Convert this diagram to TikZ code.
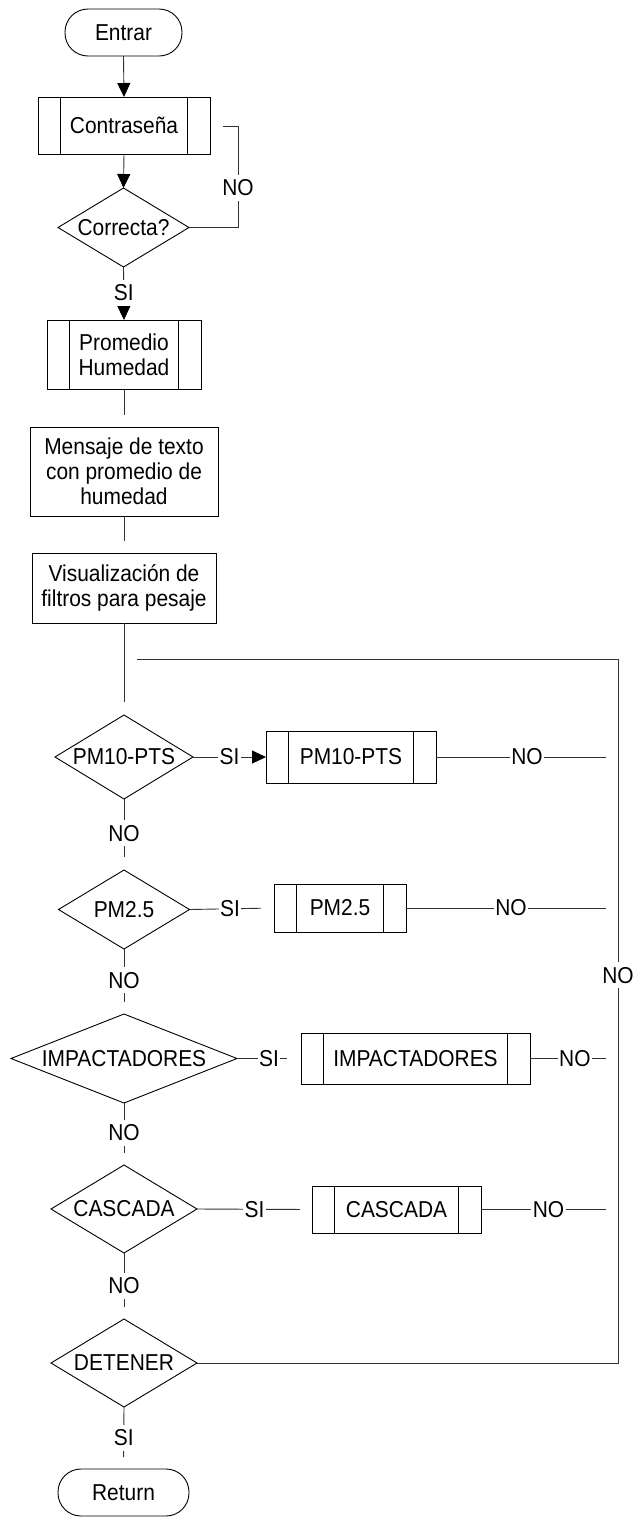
\documentclass[tikz,border=0pt]{standalone}
\usepackage{fontspec}
\setmainfont[FakeStretch=0.91]{Liberation Sans}
\usetikzlibrary{arrows.meta}
\begin{document}
\begin{tikzpicture}[x=1pt,y=-1pt,
  every node/.style={font=\fontsize{23}{25}\selectfont, align=center, inner sep=0pt, outer sep=0pt},
  terminal/.style={draw, line width=0.9pt, rounded corners=23pt},
  procbox/.style={draw, line width=0.9pt},
  subproc/.style={draw, line width=0.9pt,
    path picture={
      \draw[line width=0.9pt] ([xshift=22.5pt]path picture bounding box.north west) -- ([xshift=22.5pt]path picture bounding box.south west);
      \draw[line width=0.9pt] ([xshift=-22.5pt]path picture bounding box.north east) -- ([xshift=-22.5pt]path picture bounding box.south east);}},
  decision/.style={},
  conn/.style={line width=0.9pt, draw=black!80},
  arr/.style={conn, -{Triangle[length=14pt,width=13pt,color=black]}},
  lbl/.style={fill=white, inner xsep=1.5pt, inner ysep=5pt}
]
\useasboundingbox (0,0) rectangle (634,1519);

% nodes
\node[terminal, minimum width=117pt, minimum height=47pt] (ent) at (123.5,32.5) {Entrar};
\node[subproc, minimum width=172pt, minimum height=57pt] (con) at (124,125.5) {Contraseña};
\node[decision, minimum width=131pt, minimum height=79pt] (cor) at (123.5,227.5) {Correcta?};
\node[subproc, minimum width=154pt, minimum height=69pt] (pro) at (124,354.5) {Promedio\\Humedad};
\node[procbox, minimum width=188pt, minimum height=89pt] (men) at (124,471.5) {Mensaje de texto\\con promedio de\\humedad};
\node[procbox, minimum width=184pt, minimum height=70pt] (vis) at (124,588) {Visualización de\\filtros para pesaje};

\node[decision, minimum width=138pt, minimum height=84pt] (d1) at (124,757) {PM10-PTS};
\node[subproc, minimum width=170pt, minimum height=52pt] (p1) at (351,757) {PM10-PTS};
\node[decision, minimum width=131pt, minimum height=79pt] (d2) at (124,909.5) {PM2.5};
\node[subproc, minimum width=132pt, minimum height=48pt] (p2) at (340,908) {PM2.5};
\node[decision, minimum width=226pt, minimum height=89pt] (d3) at (124,1058.5) {IMPACTADORES};
\node[subproc, minimum width=229pt, minimum height=51pt] (p3) at (415.5,1058.5) {IMPACTADORES};
\node[decision, minimum width=146pt, minimum height=88pt] (d4) at (124,1209) {CASCADA};
\node[subproc, minimum width=169pt, minimum height=47pt] (p4) at (396.5,1209.5) {CASCADA};
\node[decision, minimum width=146pt, minimum height=88pt] (d5) at (124,1363) {DETENER};
\node[terminal, minimum width=131pt, minimum height=47pt] (ret) at (123.5,1492.5) {Return};

% diamond outlines
\foreach \n in {cor,d1,d2,d3,d4,d5}
  \draw[line width=0.9pt] (\n.north) -- (\n.east) -- (\n.south) -- (\n.west) -- cycle;

% free ends
\coordinate (loopend) at (223,126);
\coordinate (loopcorner) at (238,126);
\coordinate (e1) at (606,757);
\coordinate (e2) at (606,908);
\coordinate (e3) at (606,1058.5);
\coordinate (e4) at (606,1209.5);
\coordinate (rc) at (618,659);
\coordinate (le) at (137,659);

% connectors
\draw[arr] (ent.south) -- (con.north);
\draw[arr] (con.south) -- (cor.north);
\draw[conn] (cor.east) -- (cor.east -| loopcorner) -- node[lbl, pos=0.39] {NO} (loopcorner) -- (loopend);
\draw[arr] (cor.south) -- node[lbl, pos=0.49] {SI} (pro.north);
\draw[conn, shorten >=12pt] (pro.south) -- (men.north);
\draw[conn, shorten >=12pt] (men.south) -- (vis.north);
\draw[conn, shorten >=13pt] (vis.south) -- (d1.north);

\draw[arr] (d1.east) -- node[lbl, pos=0.5] {SI} (p1.west);
\draw[conn] (p1.east) -- node[lbl, pos=0.535] {NO} (e1);
\draw[conn, shorten >=13pt] (d1.south) -- node[lbl, pos=0.48] {NO} (d2.north);

\draw[conn, shorten >=13pt] (d2.east) -- node[lbl, pos=0.48] {SI} (p2.west);
\draw[conn] (p2.east) -- node[lbl, pos=0.525] {NO} (e2);
\draw[conn, shorten >=12pt] (d2.south) -- node[lbl, pos=0.48] {NO} (d3.north);

\draw[conn, shorten >=14pt] (d3.east) -- node[lbl, pos=0.5] {SI} (p3.west);
\draw[conn] (p3.east) -- node[lbl, pos=0.59] {NO} (e3);
\draw[conn, shorten >=12pt] (d3.south) -- node[lbl, pos=0.48] {NO} (d4.north);

\draw[conn, shorten >=12pt] (d4.east) -- node[lbl, pos=0.5] {SI} (p4.west);
\draw[conn] (p4.east) -- node[lbl, pos=0.54] {NO} (e4);
\draw[conn, shorten >=12pt] (d4.south) -- node[lbl, pos=0.5] {NO} (d5.north);

\draw[conn, shorten >=12pt] (d5.south) -- node[lbl, pos=0.5] {SI} (ret.north);
\draw[conn] (d5.east) -- (d5.east -| rc) -- node[lbl, pos=0.551] {NO} (rc) -- (le);
\end{tikzpicture}
\end{document}
